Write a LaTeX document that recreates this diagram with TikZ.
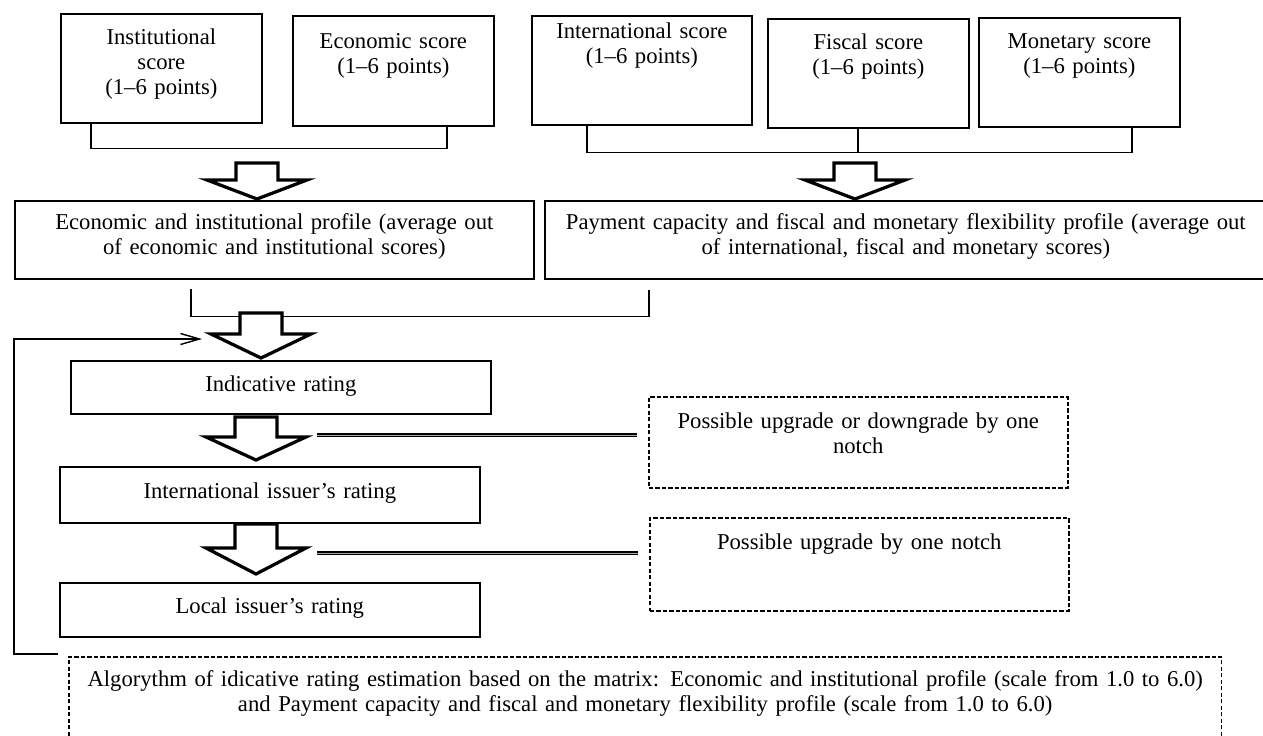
\documentclass[tikz,border=0pt]{standalone}
\usepackage{fontspec}
\setmainfont{Liberation Serif}
\usetikzlibrary{arrows.meta,calc}

\tikzset{
  box/.style={draw, line width=1pt, align=center, inner sep=0pt, anchor=north west,
    font=\fontsize{12.9}{14.2}\selectfont},
  dbox/.style={box, line width=0.9pt, dash pattern=on 2.4pt off 1.3pt},
  link/.style={line width=0.8pt},
  dline/.style={line width=0.8pt, double=gray!70, double distance=0.5pt},
  pics/bigarrow/.style 2 args={code={
    \draw[line width=0.065cm, fill=white] (-21,-#1-#2) -- (-21,-#1) -- (-50,-#1) -- (0,0)
      -- (50,-#1) -- (21,-#1) -- (21,-#1-#2) -- cycle;}},
}

\begin{document}
\begin{tikzpicture}[x=0.02cm, y=-0.02cm]
  \useasboundingbox (0,0) rectangle (1263,736);
  % Scores
  \node[box, text width=4.02cm, text height=0.62cm, text depth=1.56cm] (inst) at (60,13) {Institutional\\score\\(1–6 points)};
  \node[box, text width=4.02cm, text height=0.66cm, text depth=1.54cm] (econ) at (292,15) {Economic score\\(1–6 points)};
  \node[box, text width=4.4cm, text height=0.46cm, text depth=1.72cm] (intl) at (531,15) {International score\\(1–6 points)};
  \node[box, text width=4.02cm, text height=0.62cm, text depth=1.56cm] (fisc) at (767,18) {Fiscal score\\(1–6 points)};
  \node[box, text width=4.02cm, text height=0.62cm, text depth=1.56cm] (mone) at (978,17) {Monetary score\\(1–6 points)};
  % Brackets under the scores
  \draw[link] ($(inst.south west)+(31,0)$) |- ($(econ.south west)+(155,22)$) -- ($(econ.south west)+(155,0)$);
  \draw[link] ($(intl.south west)+(56,0)$) |- ($(mone.south west)+(154,25)$) -- ($(mone.south west)+(154,0)$);
  \draw[link] ($(fisc.south west)+(91,0)$) -- ++(0,24);
  \pic at (257,199) {bigarrow={19}{17}};
  \pic at (855,199) {bigarrow={19}{17}};
  % Profiles
  \node[box, text width=10.38cm, text height=0.58cm, text depth=0.98cm] (eprof) at (14,200) {Economic and institutional profile (average out\\of economic and institutional scores)};
  \node[box, text width=14.44cm, text height=0.58cm, text depth=0.98cm] (pprof) at (544,200) {Payment capacity and fiscal and monetary flexibility profile (average out\\of international, fiscal and monetary scores)};
  \draw[link] ($(eprof.south west)+(177,9)$) |- ($(pprof.south west)+(105,37)$) -- ++(0,-27);
  \pic at (261,358) {bigarrow={24}{21}};
  % Ratings
  \node[box, text width=8.4cm, text height=0.62cm, text depth=0.44cm] (indic) at (70,360) {Indicative rating};
  \pic at (256,460) {bigarrow={23}{20}};
  \node[box, text width=8.4cm, text height=0.64cm, text depth=0.48cm] (intr) at (59,466) {International issuer’s rating};
  \pic at (256,574) {bigarrow={26}{24}};
  \node[box, text width=8.4cm, text height=0.62cm, text depth=0.46cm] (local) at (59,582) {Local issuer’s rating};
  % Notches
  \node[dbox, text width=8.38cm, text height=0.64cm, text depth=1.18cm] (dash1) at (648,396) {Possible upgrade or downgrade by one\\notch};
  \node[dbox, text width=8.38cm, text height=0.64cm, text depth=1.22cm] (dash2) at (649,517) {Possible upgrade by one notch};
  \coordinate (up1) at (317,435);
  \coordinate (up2) at (317,553);
  \draw[dline, shorten >=0.22cm] (up1) -- (up1 -| dash1.west);
  \draw[dline, shorten >=0.22cm] (up2) -- (up2 -| dash2.west);
  % Matrix algorithm
  \node[dbox, text width=23.06cm, text height=0.6cm, text depth=1.2cm] (algo) at (68,656) {Algorythm of idicative rating estimation based on the matrix: Economic and institutional profile (scale from 1.0 to 6.0)\\and Payment capacity and fiscal and monetary flexibility profile (scale from 1.0 to 6.0)};
  \coordinate (fbcorner) at (14,339);
  \coordinate (fbin) at (202,339);
  \draw[link, -{Straight Barb[length=0.38cm, width=0.22cm]}] ($(algo.north west)+(-10,-2)$) -| (fbcorner) -- (fbin);
\end{tikzpicture}
\end{document}
